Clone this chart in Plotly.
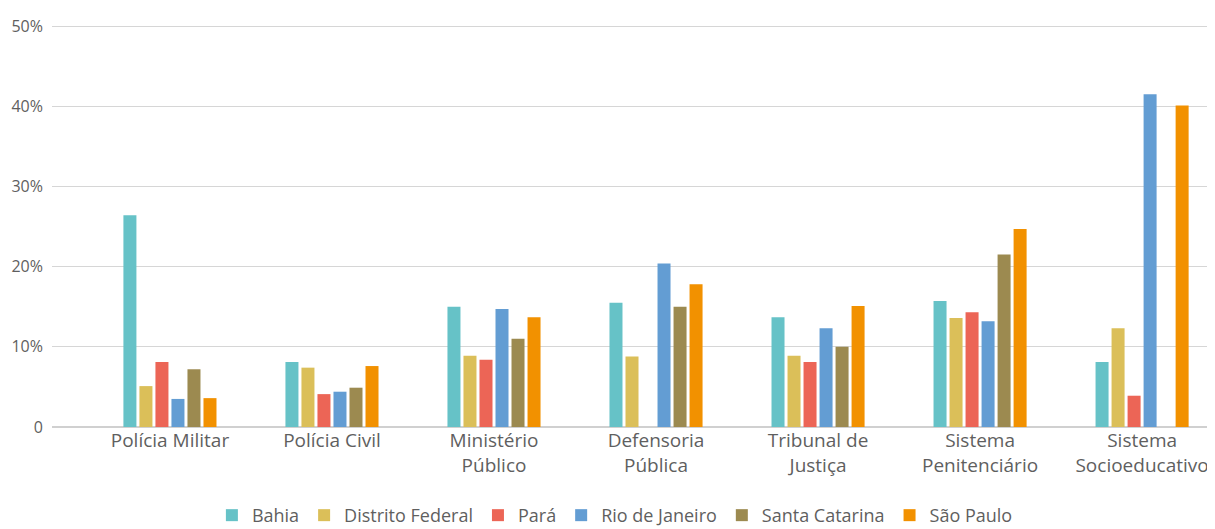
import plotly.graph_objects as go

categories = ["Polícia Militar", "Polícia Civil", "Ministério<br>Público", "Defensoria<br>Pública",
              "Tribunal de<br>Justiça", "Sistema<br>Penitenciário", "Sistema<br>Socioeducativo"]

bahia = [26.4, 8.1, 15.0, 15.5, 13.7, 15.7, 8.1]
distrito_federal = [5.1, 7.4, 8.9, 8.8, 8.9, 13.6, 12.3]
para = [8.1, 4.1, 8.4, None, 8.1, 14.3, 3.9]
rio_de_janeiro = [3.5, 4.4, 14.7, 20.4, 12.3, 13.2, 41.5]
santa_catarina = [7.2, 4.9, 11.0, 15.0, 10.0, 21.5, None]
sao_paulo = [3.6, 7.6, 13.7, 17.8, 15.1, 24.7, 40.1]

series = [
    ("Bahia", bahia, "#66C2C7"),
    ("Distrito Federal", distrito_federal, "#DBBF59"),
    ("Pará", para, "#EC6556"),
    ("Rio de Janeiro", rio_de_janeiro, "#639DD3"),
    ("Santa Catarina", santa_catarina, "#9C8A50"),
    ("São Paulo", sao_paulo, "#F29100"),
]

y_ticks = [0, 10, 20, 30, 40, 50]
y_ticktext = ["0", "10%", "20%", "30%", "40%", "50%"]

fig = go.Figure()
for name, vals, color in series:
    fig.add_trace(go.Bar(name=name, x=list(range(len(categories))), y=vals,
                         marker=dict(color=color, line=dict(width=0))))

# The page body adds an 8px margin, so the figure is 8px smaller than the window.
font_family = "'Open Sans', Roboto, sans-serif"
txt_color = "#5F5F5F"
fig.update_layout(
    width=1207, height=521,
    margin=dict(l=44, r=0, t=10, b=102),
    paper_bgcolor="white", plot_bgcolor="white",
    barmode="group", bargap=0.407, bargroupgap=0.1875,
    font=dict(family=font_family, size=19, color=txt_color),
    showlegend=True,
    legend=dict(orientation="h", x=0.484, xanchor="center",
                yref="container", y=0.026, yanchor="middle",
                font=dict(size=18, color=txt_color), itemwidth=30,
                traceorder="normal"),
    xaxis=dict(tickmode="array", tickvals=list(range(len(categories))), ticktext=categories,
               range=[-0.728, 6.45], showgrid=False, zeroline=False, showline=False,
               ticks="", automargin=False, tickfont=dict(size=19, color=txt_color)),
    yaxis=dict(range=[0, 51], tickvals=y_ticks, ticktext=y_ticktext,
               showgrid=True, gridcolor="#D6D6D6", gridwidth=1,
               zeroline=True, zerolinecolor="#D0D0D0", zerolinewidth=1.5,
               showline=False, ticks="", ticklen=0, automargin=False,
               ticklabelstandoff=8,
               tickfont=dict(size=16, color=txt_color)),
)

fig.write_html("out.html")
